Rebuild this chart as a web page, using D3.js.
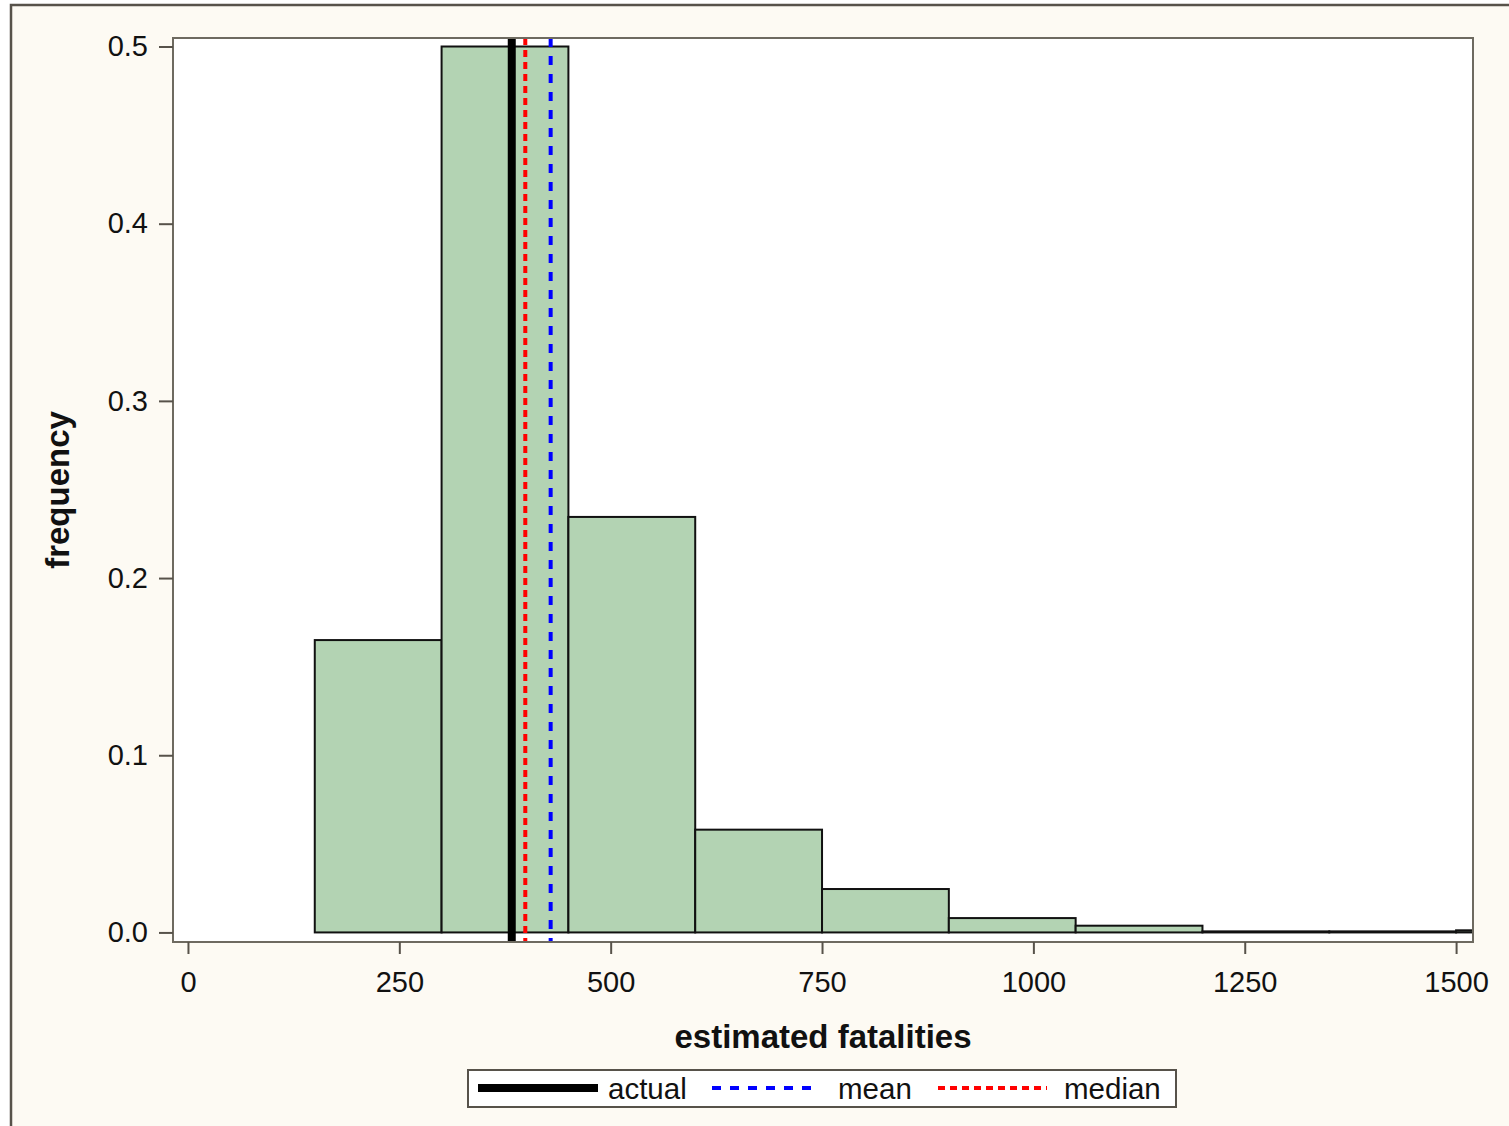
<!DOCTYPE html>
<html>
<head>
<meta charset="utf-8">
<script src="https://cdn.jsdelivr.net/npm/d3@7"></script>
<style>
  html, body { margin: 0; padding: 0; background: #ffffff; }
  svg { display: block; }
  text { font-family: Arial, "Liberation Sans", Helvetica, sans-serif; }
</style>
</head>
<body>
<svg id="chart" width="1509" height="1126"></svg>
<script>
// Histogram bins (lower edge, upper edge) and their relative frequencies
const binStarts = [150, 300, 450, 600, 750, 900, 1050, 1200, 1350, 1500];
const binWidth = 150;
const frequencies = [0.165, 0.500, 0.2345, 0.058, 0.0245, 0.0081, 0.0038, 0.0006, 0.0006, 0.0012];

// Reference lines
const refNames = ["actual", "mean", "median"];
const refValues = [383, 429, 399];

// Axis ticks
const xTicks = [0, 250, 500, 750, 1000, 1250, 1500];
const yTicks = [0.0, 0.1, 0.2, 0.3, 0.4, 0.5];

const svg = d3.select("#chart");
const W = 1509, H = 1126;
const plot = { left: 173, top: 38, right: 1473, bottom: 942 };

// outer panel
svg.append("rect").attr("x", 11).attr("y", 5).attr("width", W + 10).attr("height", H + 10)
  .attr("fill", "#fdfaf3").attr("stroke", "#57524a").attr("stroke-width", 2.5);

const x = d3.scaleLinear().domain([-17.7, 1520]).range([plot.left, plot.right]);
const y = d3.scaleLinear().domain([-0.0054, 0.5048]).range([plot.bottom, plot.top]);

// plot area background
svg.append("rect").attr("x", plot.left).attr("y", plot.top)
  .attr("width", plot.right - plot.left).attr("height", plot.bottom - plot.top)
  .attr("fill", "#ffffff");

svg.append("clipPath").attr("id", "plotclip").append("rect")
  .attr("x", plot.left).attr("y", plot.top)
  .attr("width", plot.right - plot.left).attr("height", plot.bottom - plot.top);

const g = svg.append("g").attr("clip-path", "url(#plotclip)");

// bars
const bins = binStarts.map((s, i) => ({ x0: s, x1: s + binWidth, f: frequencies[i] }));
g.selectAll("rect.bar").data(bins).enter().append("rect")
  .attr("class", "bar")
  .attr("x", d => x(d.x0))
  .attr("y", d => y(d.f))
  .attr("width", d => x(d.x1) - x(d.x0))
  .attr("height", d => y(0) - y(d.f))
  .attr("fill", "#b3d3b3")
  .attr("stroke", "#111111")
  .attr("stroke-width", 2);

// reference line styles
const refStyle = {
  actual: { color: "#000000", width: 8, dash: null },
  mean:   { color: "#0000ff", width: 4, dash: "9,9" },
  median: { color: "#ff0000", width: 4, dash: "7,5" }
};

const refs = refNames.map((n, i) => ({ name: n, v: refValues[i] }));
g.selectAll("line.ref").data(refs).enter().append("line")
  .attr("class", "ref")
  .attr("x1", d => x(d.v)).attr("x2", d => x(d.v))
  .attr("y1", plot.top).attr("y2", plot.bottom)
  .attr("stroke", d => refStyle[d.name].color)
  .attr("stroke-width", d => refStyle[d.name].width)
  .attr("stroke-dasharray", d => refStyle[d.name].dash);

// plot frame
svg.append("rect").attr("x", plot.left).attr("y", plot.top)
  .attr("width", plot.right - plot.left).attr("height", plot.bottom - plot.top)
  .attr("fill", "none").attr("stroke", "#6e6a60").attr("stroke-width", 2);

// x axis
const xAxis = d3.axisBottom(x).tickValues(xTicks).tickSize(12).tickPadding(17)
  .tickFormat(d3.format("d"));
const gx = svg.append("g").attr("transform", `translate(0,${plot.bottom})`).call(xAxis);
gx.select(".domain").remove();
gx.selectAll(".tick line").attr("stroke", "#57524a").attr("stroke-width", 2);
gx.selectAll(".tick text").attr("font-size", 29).attr("fill", "#111");

// y axis
const yAxis = d3.axisLeft(y).tickValues(yTicks).tickSize(14).tickPadding(11)
  .tickFormat(d3.format(".1f"));
const gy = svg.append("g").attr("transform", `translate(${plot.left},0)`).call(yAxis);
gy.select(".domain").remove();
gy.selectAll(".tick line").attr("stroke", "#57524a").attr("stroke-width", 2);
gy.selectAll(".tick text").attr("font-size", 29).attr("fill", "#111");

// axis titles
svg.append("text").attr("x", (plot.left + plot.right) / 2).attr("y", 1048)
  .attr("text-anchor", "middle").attr("font-size", 33).attr("font-weight", "bold")
  .attr("fill", "#111").text("estimated fatalities");

svg.append("text")
  .attr("transform", `translate(69,${(plot.top + plot.bottom) / 2}) rotate(-90)`)
  .attr("text-anchor", "middle").attr("font-size", 33).attr("font-weight", "bold")
  .attr("fill", "#111").text("frequency");

// legend
const legend = svg.append("g");
legend.append("rect").attr("x", 468).attr("y", 1070).attr("width", 708).attr("height", 37)
  .attr("fill", "#ffffff").attr("stroke", "#57524a").attr("stroke-width", 2);

const legendItems = [
  { name: "actual", x0: 478, x1: 598, tx: 608 },
  { name: "mean", x0: 712, x1: 818, tx: 838 },
  { name: "median", x0: 938, x1: 1047, tx: 1064 }
];
legendItems.forEach(it => {
  const s = refStyle[it.name];
  legend.append("line").attr("x1", it.x0).attr("x2", it.x1)
    .attr("y1", 1088).attr("y2", 1088)
    .attr("stroke", s.color).attr("stroke-width", s.width)
    .attr("stroke-dasharray", s.dash);
  legend.append("text").attr("x", it.tx).attr("y", 1099)
    .attr("font-size", 29.5).attr("fill", "#111").text(it.name);
});
</script>
</body>
</html>
